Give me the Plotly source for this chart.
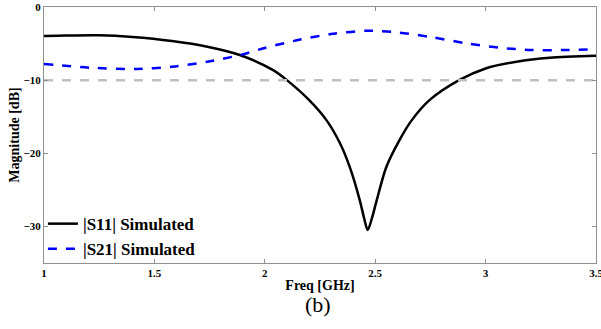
import plotly.graph_objects as go

# S11 (black solid)
s11_freq = [1.0, 1.1, 1.25, 1.4, 1.58, 1.74, 1.887, 2.036, 2.10, 2.20, 2.28, 2.34, 2.385,
            2.43, 2.45, 2.466, 2.485, 2.507, 2.55, 2.61, 2.665, 2.747, 2.88, 3.0, 3.14, 3.29, 3.5]
s11_db = [-3.97, -3.9, -3.87, -4.1, -4.65, -5.43, -6.57, -8.6, -10.0, -12.7, -15.5, -18.6, -21.9,
          -26.4, -28.9, -30.5, -28.9, -26.4, -21.9, -18.2, -15.5, -12.7, -10.0, -8.4, -7.48, -6.94, -6.66]

# S21 (blue dashed)
s21_freq = [1.0, 1.21, 1.42, 1.58, 1.74, 1.887, 2.0, 2.16, 2.31, 2.46, 2.61, 2.76, 2.914,
            3.06, 3.21, 3.37, 3.5]
s21_db = [-7.8, -8.3, -8.48, -8.16, -7.48, -6.57, -5.6, -4.45, -3.65, -3.25, -3.5, -4.15, -4.97,
          -5.56, -5.88, -5.88, -5.75]

ref_level = -10
x_ticks = [1, 1.5, 2, 2.5, 3, 3.5]
x_ticklabels = ["1", "1.5", "2", "2.5", "3", "3.5"]
y_ticks = [0, -10, -20, -30]

serif = "Liberation Serif, Times New Roman, serif"

fig = go.Figure()
fig.add_trace(go.Scatter(x=s11_freq, y=s11_db, mode="lines", name="|S11| Simulated",
                         line=dict(color="black", width=2.5, shape="spline", smoothing=0.8)))
fig.add_trace(go.Scatter(x=s21_freq, y=s21_db, mode="lines", name="|S21| Simulated",
                         line=dict(color="#0000ff", width=2.5, dash="dash", shape="spline", smoothing=0.8)))
fig.add_trace(go.Scatter(x=[1, 3.5], y=[ref_level, ref_level], mode="lines", showlegend=False,
                         line=dict(color="#c0c0c0", width=2.5, dash="dash")))

axis_common = dict(showline=True, linecolor="#909090", linewidth=1, mirror="ticks",
                   ticks="inside", ticklen=4, tickcolor="#909090", showgrid=False, zeroline=False,
                   automargin=False, ticklabeloverflow="allow",
                   tickfont=dict(family=serif, size=11, color="black", weight="bold"))

fig.update_layout(
    width=601, height=329,
    margin=dict(l=44, r=5, t=7, b=66),
    paper_bgcolor="white", plot_bgcolor="white",
    xaxis=dict(range=[1, 3.5], tickvals=x_ticks, ticktext=x_ticklabels,
               title=dict(text="Freq [GHz]", font=dict(family=serif, size=14, color="black", weight="bold"),
                          standoff=1),
               **axis_common),
    yaxis=dict(range=[-35, 0], tickvals=y_ticks,
               title=dict(text="Magnitude [dB]", font=dict(family=serif, size=14, color="black", weight="bold"),
                          standoff=0),
               **axis_common),
    legend=dict(x=-0.002, y=-0.016, xanchor="left", yanchor="bottom", bgcolor="rgba(0,0,0,0)",
                font=dict(family=serif, size=17, color="black", weight="bold"),
                tracegroupgap=0, itemwidth=30),
    showlegend=True,
)
fig.add_annotation(text="(b)", xref="paper", yref="paper", x=0.496, y=-0.106, xanchor="center",
                   yanchor="top", showarrow=False, font=dict(family=serif, size=22, color="black"))

fig.write_html("out.html", config={"displayModeBar": False},
               post_script="document.body.style.margin='0';document.body.style.overflow='hidden';")
